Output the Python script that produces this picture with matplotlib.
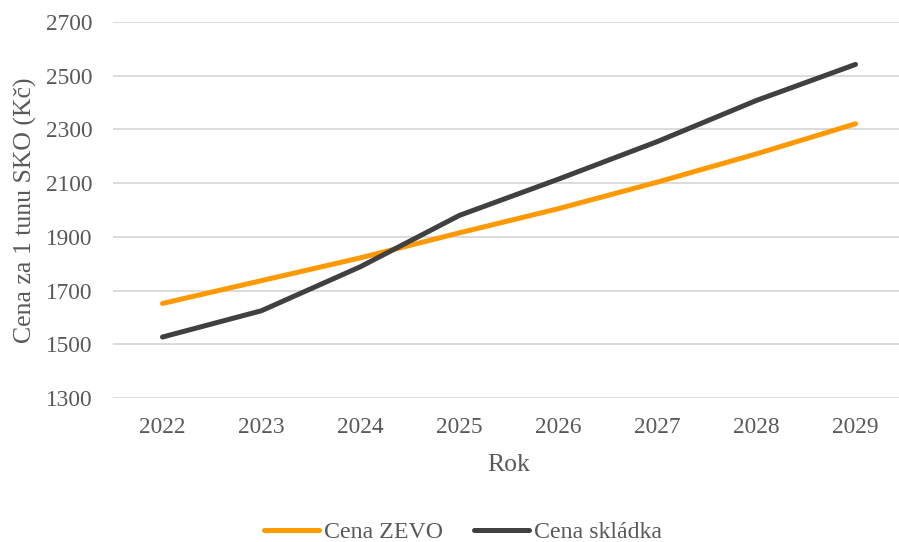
import matplotlib
matplotlib.use("Agg")
import matplotlib.pyplot as plt

plt.rcParams['font.family'] = ['Liberation Serif', 'DejaVu Serif']

years = ['2022', '2023', '2024', '2025', '2026', '2027', '2028', '2029']
cena_zevo = [1652, 1737, 1822, 1915, 2005, 2104, 2209, 2321]
cena_skladka = [1527, 1625, 1789, 1980, 2115, 2255, 2408, 2542]
yticks = [1300, 1500, 1700, 1900, 2100, 2300, 2500, 2700]

text_col = '#595959'

fig = plt.figure(figsize=(8.99, 5.42), dpi=100)
ax = fig.add_axes([113 / 899, 1 - 398 / 542, (905 - 113) / 899, (398 - 22) / 542])

x = range(len(years))
ax.plot(x, cena_zevo, color='#FF9900', lw=3.6, solid_capstyle='round', label='Cena ZEVO')
ax.plot(x, cena_skladka, color='#404040', lw=3.6, solid_capstyle='round', label='Cena skládka')

ax.set_xlim(-0.5, len(years) - 0.5)
ax.set_ylim(1300, 2700)
ax.set_yticks(yticks)
ax.set_xticks(list(x))
ax.set_xticklabels(years)
ax.grid(axis='y', color='#D9D9D9', lw=1.3)
ax.set_axisbelow(True)
for s in ax.spines.values():
    s.set_visible(False)
ax.tick_params(length=0, labelsize=16.8, colors=text_col)
ax.tick_params(axis='y', pad=15)
ax.tick_params(axis='x', pad=14)

ax.set_xlabel('Rok', fontsize=18.5, color=text_col, labelpad=11)
ax.set_ylabel('Cena za 1 tunu SKO (Kč)', fontsize=18.5, color=text_col, labelpad=6)

fig.legend(loc='center', bbox_to_anchor=(0.515, 1 - 532 / 542), ncol=2, frameon=False,
           fontsize=17.2, labelcolor=text_col, handlelength=2.3, handletextpad=0.2,
           columnspacing=1.3)

fig.savefig('out.png', dpi=100)
